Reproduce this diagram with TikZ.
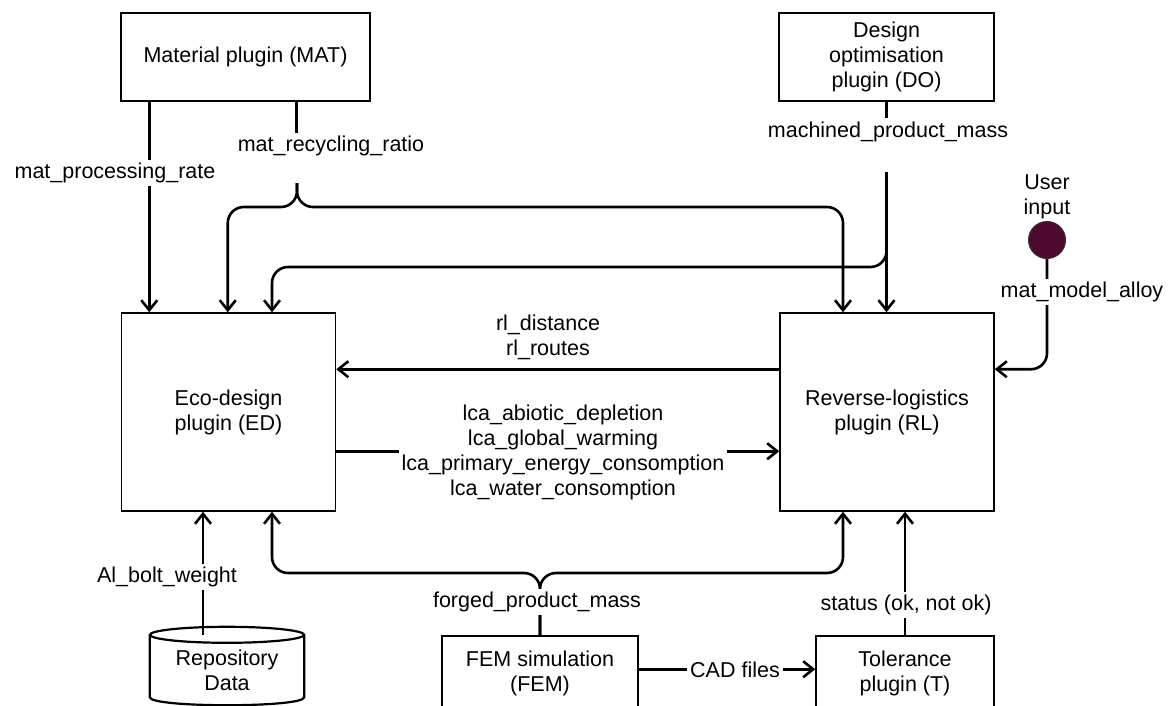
\documentclass[tikz,border=0pt]{standalone}
\usepackage{fontspec}
\setmainfont{Liberation Sans}
\usetikzlibrary{arrows.meta}

\begin{document}
\begin{tikzpicture}[x=1pt,y=-1pt,
  font=\fontsize{21.5}{25}\selectfont,
  box/.style={draw,line width=1.5pt,align=center,inner sep=0pt},
  conn/.style={line width=2.6pt,rounded corners=16pt},
  arr/.style={conn,-{Straight Barb[length=10pt,width=16pt]}},
  lbl/.style={fill=white,align=center,inner sep=3pt}]

\useasboundingbox (0,0) rectangle (1172,706);

\node[box,minimum width=249pt,minimum height=88pt] (mat) at (245.5,57) {Material plugin (MAT)};
\node[box,minimum width=215pt,minimum height=88pt] (do) at (886.5,57) {Design\\optimisation\\plugin (DO)};
\node[box,minimum width=214pt,minimum height=198pt] (ed) at (228.5,412) {Eco-design\\plugin (ED)};
\node[box,minimum width=214pt,minimum height=198pt] (rl) at (887,412) {Reverse-logistics\\plugin (RL)};
\node[box,minimum width=196pt,minimum height=74pt] (fem) at (540,673) {FEM simulation\\(FEM)};
\node[box,minimum width=178pt,minimum height=74pt] (tol) at (905,673) {Tolerance\\plugin (T)};

\node[minimum width=154pt,minimum height=70pt,align=center,inner sep=0pt] (repo) at (227,670) {Repository\\Data};
\draw[line width=2.2pt] (repo.north west) -- ([yshift=8pt]repo.south west) .. controls +(0,10.7) and +(0,10.7) .. ([yshift=8pt]repo.south east) -- (repo.north east);
\draw[line width=2.2pt] (repo.north) ellipse [x radius=77pt, y radius=8pt];

\node[circle,draw=black!80,line width=1pt,fill={rgb,255:red,78;green,10;blue,46},minimum size=37pt,inner sep=0pt] (user) at (1047,240) {};
\node[align=center] (userlbl) at (1047,197) {User\\input};

\coordinate (mrrgap) at (297,183);
\coordinate (mrr) at (297,207);
\coordinate (mgap) at (886.5,172);
\coordinate (mbr) at (272,267);
\coordinate (fpm) at (540,573);

\draw[arr] ([xshift=29pt]mat.south west) -- ([xshift=29pt]mat.south west |- ed.north);
\draw[conn] ([xshift=176pt]mat.south west) -- ([xshift=176pt,yshift=-32pt]mat.south west);
\draw[arr] (mrrgap) -- (mrr) -| ([xshift=107pt]ed.north west);
\draw[arr] (mrrgap) -- (mrr) -| ([xshift=-44pt]rl.north);

\draw[conn] (do.south) -- ([yshift=-16pt]do.south);
\draw[arr] (mgap) -- (mgap |- rl.north);
\draw[arr] (mgap) |- (mbr) -- (mbr |- ed.north);

\draw[arr] (user.south) |- ([yshift=-57pt]rl.north east);
\draw[arr] ([yshift=-57pt]rl.north west) -- ([yshift=-57pt]rl.north west -| ed.east);
\draw[arr] ([yshift=-139pt]ed.north east) -- ([yshift=-139pt]ed.north east -| rl.west);

\draw[arr] ([xshift=-24pt]repo.north) -- ([xshift=-24pt]repo.north |- ed.south);
\draw[arr] (fem.north) -- (fpm) -| (mbr |- ed.south);
\draw[arr] (fem.north) -- (fpm) -| ([xshift=-44pt]rl.south);
\draw[arr] (tol.north) -- (tol.north |- rl.south);
\draw[arr] ([yshift=-34pt]fem.north east) -- ([yshift=-34pt]fem.north east -| tol.west);

\node[lbl] (lblproc) at (115,173) {mat\_processing\_rate};
\node[lbl] (lblrecyc) at (331,146) {mat\_recycling\_ratio};
\node[lbl] (lblmach) at (888,132) {machined\_product\_mass};
\node[lbl] (lblalloy) at (1082,292) {mat\_model\_alloy};
\node[align=center] (lbldist) at (548,337) {rl\_distance\\rl\_routes};
\node[lbl] (lbllca) at (563,452) {lca\_abiotic\_depletion\\lca\_global\_warming\\lca\_primary\_energy\_consomption\\lca\_water\_consomption};
\node[lbl] (lblbolt) at (167,577) {Al\_bolt\_weight};
\node[lbl] (lblforged) at (537,602) {forged\_product\_mass};
\node[lbl] (lblstatus) at (906,605) {status (ok, not ok)};
\node[lbl] (lblcad) at (735,670) {CAD files};

\end{tikzpicture}
\end{document}
